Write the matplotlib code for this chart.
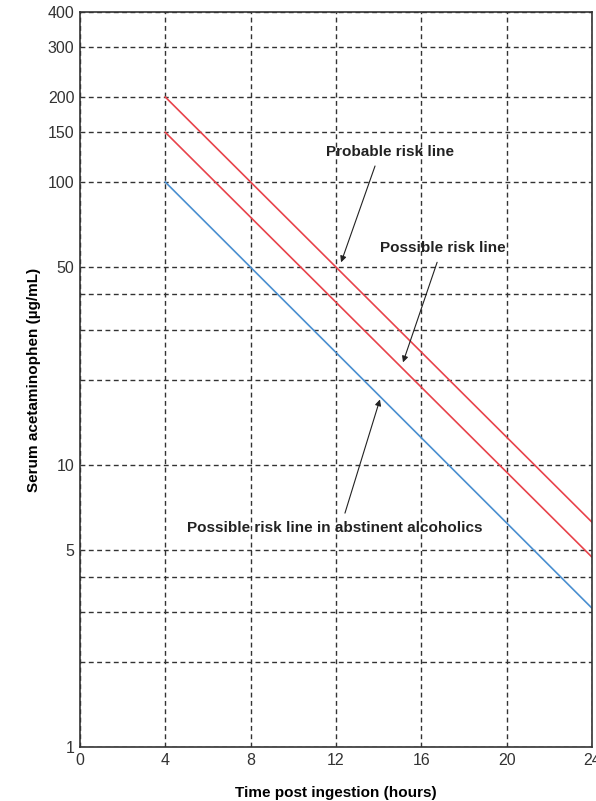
import matplotlib.pyplot as plt

# Nomogram lines (start at 4 h, end at 24 h)
hours = [4, 24]
probable = [200, 6.25]
possible = [150, 4.7]
abstinent = [100, 3.1]

x_ticks = [0, 4, 8, 12, 16, 20, 24]
y_grid = [1, 2, 3, 4, 5, 10, 20, 30, 40, 50, 100, 150, 200, 300, 400]
y_labeled = [1, 5, 10, 50, 100, 150, 200, 300, 400]

plt.rcParams['font.family'] = ['Liberation Sans', 'DejaVu Sans']

fig = plt.figure(figsize=(5.96, 8.01), dpi=100)
ax = fig.add_axes([0.1342, 0.0674, 0.8591, 0.9176])

ax.plot(hours, probable, color='#e8434b', lw=1.2)
ax.plot(hours, possible, color='#e8434b', lw=1.2)
ax.plot(hours, abstinent, color='#4a8fd0', lw=1.2)

ax.set_yscale('log')
ax.set_xlim(0, 24)
ax.set_ylim(1, 400)
ax.set_xticks(x_ticks)
ax.set_xticklabels([str(t) for t in x_ticks])
ax.set_yticks(y_grid)
ax.set_yticklabels([str(v) if v in y_labeled else '' for v in y_grid])
ax.minorticks_off()
ax.tick_params(length=0, labelsize=11.5, colors='#333333', pad=4)
ax.grid(True, color='#333333', linestyle=(0, (3.5, 2.5)), lw=1)
for s in ax.spines.values():
    s.set_color('#333333')
    s.set_linewidth(1.2)

ax.set_xlabel('Time post ingestion (hours)', fontweight='bold', fontsize=11, labelpad=13)
ax.set_ylabel('Serum acetaminophen (\u00b5g/mL)', fontweight='bold', fontsize=11, labelpad=5)

arrow = dict(arrowstyle='-|>', color='#222222', lw=0.8, mutation_scale=9, shrinkA=0, shrinkB=0)

ax.text(14.53, 128, 'Probable risk line', ha='center', va='center', fontweight='bold', fontsize=11, color='#222222')
ax.annotate('', xy=(12.24, 52), xytext=(13.83, 114), arrowprops=arrow)

ax.text(17.02, 58.4, 'Possible risk line', ha='center', va='center', fontweight='bold', fontsize=11, color='#222222')
ax.annotate('', xy=(15.14, 23), xytext=(16.74, 52), arrowprops=arrow)

ax.text(11.95, 5.96, 'Possible risk line in abstinent alcoholics', ha='center', va='center',
        fontweight='bold', fontsize=11, color='#222222')
ax.annotate('', xy=(14.06, 17), xytext=(12.42, 6.73), arrowprops=arrow)

fig.savefig('out.png', dpi=100)
